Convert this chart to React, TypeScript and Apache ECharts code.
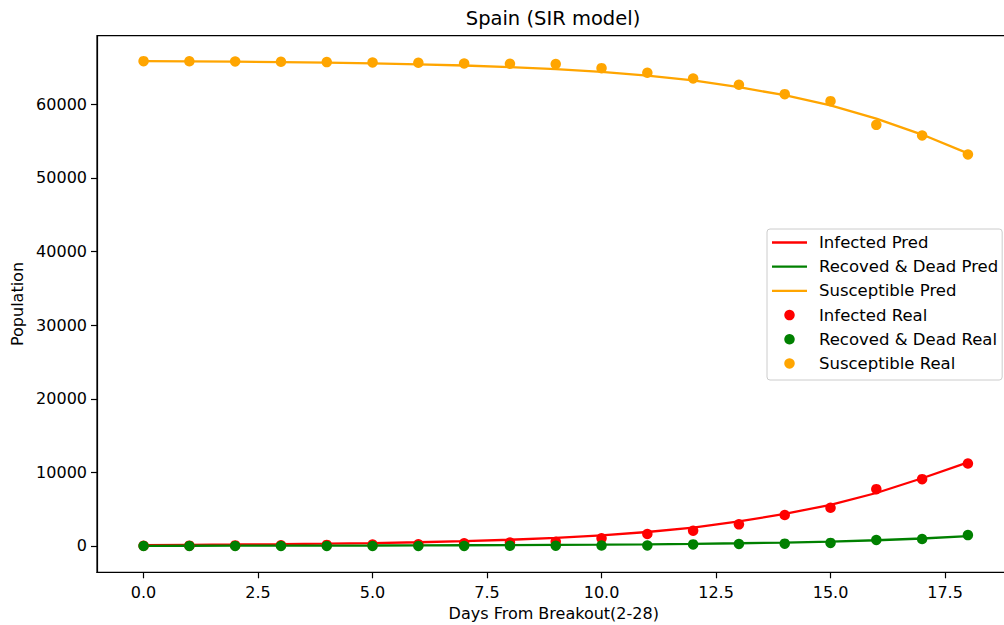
import React, { useEffect, useRef } from "react";
import * as echarts from "echarts";

const FONT = "DejaVu Sans";

const days = [0, 1, 2, 3, 4, 5, 6, 7, 8, 9, 10, 11, 12, 13, 14, 15, 16, 17, 18];

const infectedPred = [130, 160, 200, 250, 320, 400, 510, 660, 850, 1100, 1450, 1900, 2500, 3350, 4350, 5600, 7200, 9200, 11350];
const recoveredPred = [30, 35, 40, 50, 60, 70, 85, 100, 120, 150, 180, 230, 290, 370, 470, 600, 780, 1020, 1330];
const susceptiblePred = [65870, 65835, 65790, 65730, 65650, 65560, 65435, 65270, 65060, 64780, 64400, 63900, 63240, 62330, 61230, 59850, 58060, 55890, 53330];

const infectedReal = [30, 45, 80, 110, 150, 200, 230, 370, 460, 580, 1040, 1630, 2080, 2940, 4200, 5190, 7720, 9080, 11200];
const recoveredReal = [0, 0, 0, 0, 0, 2, 2, 5, 30, 40, 60, 70, 220, 280, 320, 420, 820, 950, 1480];
const susceptibleReal = [65860, 65840, 65820, 65770, 65730, 65680, 65640, 65550, 65500, 65460, 64910, 64280, 63510, 62650, 61380, 60430, 57210, 55770, 53190];

const xTicks = [0, 2.5, 5, 7.5, 10, 12.5, 15, 17.5];
const yTicks = [0, 10000, 20000, 30000, 40000, 50000, 60000];

const RED = "#ff0000";
const GREEN = "#008000";
const ORANGE = "#ffa500";

const pair = (vals: number[]) => days.map((d, i) => [d, vals[i]]);

export default function App() {
  const ref = useRef<HTMLDivElement>(null);
  useEffect(() => {
    if (!ref.current) return;
    const chart = echarts.init(ref.current, undefined, { renderer: "svg" });
    const lineSeries = (name: string, vals: number[], color: string) => ({
      name,
      type: "line",
      data: pair(vals),
      color,
      symbol: "none",
      showSymbol: false,
      lineStyle: { color, width: 2.3 },
      itemStyle: { color },
      z: 2,
    });
    const scatterSeries = (name: string, vals: number[], color: string) => ({
      name,
      type: "scatter",
      data: pair(vals),
      color,
      symbol: "circle",
      symbolSize: 10.5,
      itemStyle: { color, opacity: 1 },
      z: 3,
    });
    const lineIcon = "path://M0,0H35V2.3H0Z";
    chart.setOption({
      animation: false,
      backgroundColor: "#ffffff",
      title: {
        text: "Spain (SIR model)",
        left: 553,
        top: 8,
        padding: 0,
        textAlign: "center",
        textStyle: { fontFamily: FONT, fontSize: 19.5, fontWeight: "normal", color: "#000" },
      },
      grid: {
        left: 97,
        width: 913.5,
        top: 35.7,
        height: 536.6,
        outerBoundsMode: "none",
        containLabel: false,
        show: true,
        borderColor: "#000",
        borderWidth: 1.2,
        backgroundColor: "transparent",
      },
      legend: {
        orient: "vertical",
        left: 767,
        top: 229,
        itemWidth: 35,
        itemHeight: 10.5,
        itemGap: 7.2,
        padding: [5, 4, 8, 5],
        backgroundColor: "rgba(255,255,255,0.8)",
        borderColor: "#cccccc",
        borderWidth: 1,
        borderRadius: 3,
        selectedMode: false,
        textStyle: { fontFamily: FONT, fontSize: 16.5, color: "#000", padding: [0, 0, 0, 7] },
        data: [
          { name: "Infected Pred", icon: lineIcon, itemStyle: { color: RED, borderWidth: 0 } },
          { name: "Recoved & Dead Pred", icon: lineIcon, itemStyle: { color: GREEN, borderWidth: 0 } },
          { name: "Susceptible Pred", icon: lineIcon, itemStyle: { color: ORANGE, borderWidth: 0 } },
          { name: "Infected Real", icon: "circle", itemStyle: { color: RED } },
          { name: "Recoved & Dead Real", icon: "circle", itemStyle: { color: GREEN } },
          { name: "Susceptible Real", icon: "circle", itemStyle: { color: ORANGE } },
        ],
      },
      xAxis: {
        type: "value",
        min: -1.017,
        max: 18.93,
        name: "Days From Breakout(2-28)",
        nameLocation: "middle",
        nameGap: 33,
        nameTextStyle: { fontFamily: FONT, fontSize: 16, color: "#000" },
        axisLine: { show: true, onZero: false, lineStyle: { color: "#000", width: 1.2 } },
        axisTick: { show: true, length: 6, customValues: xTicks, lineStyle: { color: "#000", width: 1.2 } },
        axisLabel: {
          customValues: xTicks,
          margin: 12,
          fontFamily: FONT,
          fontSize: 16,
          color: "#000",
          formatter: (v: number) => v.toFixed(1),
        },
        splitLine: { show: false },
      },
      yAxis: {
        type: "value",
        min: -3573,
        max: 69318,
        name: "Population",
        nameLocation: "middle",
        nameGap: 72,
        nameRotate: 90,
        nameTextStyle: { fontFamily: FONT, fontSize: 16, color: "#000" },
        axisLine: { show: true, onZero: false, lineStyle: { color: "#000", width: 1.2 } },
        axisTick: { show: true, length: 6, customValues: yTicks, lineStyle: { color: "#000", width: 1.2 } },
        axisLabel: {
          customValues: yTicks,
          margin: 10,
          fontFamily: FONT,
          fontSize: 16,
          color: "#000",
          formatter: (v: number) => String(v),
        },
        splitLine: { show: false },
      },
      series: [
        lineSeries("Infected Pred", infectedPred, RED),
        lineSeries("Recoved & Dead Pred", recoveredPred, GREEN),
        lineSeries("Susceptible Pred", susceptiblePred, ORANGE),
        scatterSeries("Infected Real", infectedReal, RED),
        scatterSeries("Recoved & Dead Real", recoveredReal, GREEN),
        scatterSeries("Susceptible Real", susceptibleReal, ORANGE),
      ],
    });
    return () => chart.dispose();
  }, []);
  return (
    <div
      ref={ref}
      style={{ position: "fixed", left: 0, top: 0, width: 1004, height: 625, background: "#fff" }}
    />
  );
}
